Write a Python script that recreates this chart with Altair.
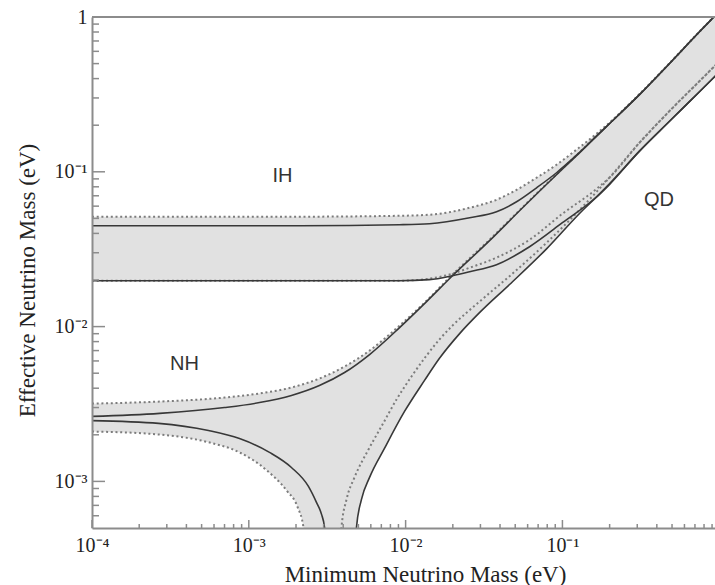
import math
import altair as alt
import pandas as pd

# ---------------- curves (eV) ----------------
# inverted hierarchy, upper edge: best fit (solid) and 3 sigma (dotted)
ih_hi_x = [1e-4, 2.1e-3, 9.15e-3, 1.42e-2, 2.56e-2, 3.80e-2, 5.10e-2, 6.84e-2, 9.17e-2, 0.123, 0.165, 0.200, 0.310, 0.482, 0.748, 0.95]
ih_hi_y = [0.0448, 0.0448, 0.0455, 0.0462, 0.0505, 0.0552, 0.0640, 0.0788, 0.0986, 0.128, 0.170, 0.205, 0.315, 0.501, 0.803, 1.03]
ih_hi3_y = [0.0513, 0.0513, 0.0520, 0.0528, 0.0586, 0.0660, 0.0765, 0.0915, 0.111, 0.139, 0.176, 0.208, 0.317, 0.502, 0.804, 1.03]

# inverted hierarchy, lower edge
ih_lo_x = [1e-4, 9.15e-3, 1.42e-2, 1.99e-2, 2.56e-2, 3.80e-2, 6.17e-2, 0.100, 0.165, 0.200, 0.310, 0.482, 0.748, 0.95]
ih_lo_y = [0.0198, 0.0198, 0.0201, 0.0213, 0.0226, 0.0251, 0.0328, 0.0469, 0.0690, 0.0840, 0.1360, 0.2120, 0.329, 0.418]
ih_lo3_y = [0.0198, 0.0198, 0.0204, 0.0220, 0.0240, 0.0279, 0.0364, 0.0536, 0.0775, 0.0920, 0.154, 0.247, 0.385, 0.490]

# normal hierarchy, upper edge
nh_hi_x = [1e-4, 2.70e-4, 7.00e-4, 1.17e-3, 1.87e-3, 2.82e-3, 4.08e-3, 5.89e-3, 9.15e-3, 1.36e-2, 1.99e-2,
           3.43e-2, 5.57e-2, 9.17e-2, 0.123, 0.165, 0.200, 0.310, 0.482, 0.748, 0.95]
nh_hi_y = [2.63e-3, 2.75e-3, 3.00e-3, 3.23e-3, 3.59e-3, 4.16e-3, 5.05e-3, 6.60e-3, 9.85e-3, 0.0145, 0.0213,
           0.0359, 0.0586, 0.0957, 0.127, 0.170, 0.205, 0.315, 0.501, 0.803, 1.03]
nh_hi3_x = [1e-4, 2.70e-4, 7.00e-4, 1.17e-3, 1.87e-3, 2.82e-3, 4.08e-3, 5.89e-3, 9.15e-3, 1.36e-2, 1.99e-2,
            3.43e-2, 5.57e-2, 9.17e-2, 0.123, 0.165, 0.200, 0.310, 0.482, 0.748, 0.95]
nh_hi3_y = [3.18e-3, 3.28e-3, 3.48e-3, 3.70e-3, 4.04e-3, 4.62e-3, 5.52e-3, 7.00e-3, 0.01015, 0.0147, 0.0217,
            0.0364, 0.0590, 0.0965, 0.128, 0.171, 0.206, 0.317, 0.502, 0.804, 1.03]

# normal hierarchy, lower edge: branch left of the cancellation
nh_lo_left_x = [1e-4, 2.66e-4, 5.53e-4, 8.72e-4, 1.355e-3, 1.87e-3, 2.40e-3, 2.70e-3, 2.91e-3, 3.04e-3, 3.10e-3]
nh_lo_left_y = [2.47e-3, 2.37e-3, 2.13e-3, 1.89e-3, 1.54e-3, 1.23e-3, 9.28e-4, 7.32e-4, 6.12e-4, 5.05e-4, 3.0e-4]
nh_lo3_left_x = [1e-4, 2.66e-4, 5.53e-4, 8.72e-4, 1.30e-3, 1.74e-3, 2.05e-3, 2.23e-3, 2.27e-3]
nh_lo3_left_y = [2.10e-3, 2.01e-3, 1.79e-3, 1.54e-3, 1.18e-3, 8.74e-4, 6.80e-4, 5.05e-4, 3.0e-4]

# normal hierarchy, lower edge: branch right of the cancellation
nh_lo_right_x = [4.75e-3, 4.86e-3, 5.23e-3, 5.89e-3, 7.33e-3, 9.84e-3, 1.32e-2, 1.64e-2, 2.21e-2, 2.96e-2, 4.60e-2,
                 7.92e-2, 0.129, 0.200, 0.310, 0.482, 0.748, 0.95]
nh_lo_right_y = [3.0e-4, 5.05e-4, 7.65e-4, 1.061e-3, 1.633e-3, 2.83e-3, 4.49e-3, 6.22e-3, 9.01e-3, 0.0123, 0.0187,
                 0.0318, 0.0540, 0.0830, 0.1360, 0.2120, 0.329, 0.418]
nh_lo3_right_x = [3.80e-3, 3.90e-3, 4.20e-3, 4.72e-3, 5.80e-3, 7.12e-3, 8.75e-3, 1.09e-2, 1.36e-2, 1.64e-2, 1.99e-2,
                  2.96e-2, 4.81e-2, 7.92e-2, 0.129, 0.200, 0.310, 0.482, 0.748, 0.95]
nh_lo3_right_y = [3.0e-4, 5.05e-4, 7.65e-4, 1.061e-3, 1.609e-3, 2.33e-3, 3.38e-3, 4.76e-3, 6.50e-3, 8.24e-3, 0.01015,
                  0.0145, 0.0220, 0.0348, 0.0569, 0.0920, 0.154, 0.247, 0.385, 0.490]

# region names
region_text = ["IH", "NH", "QD"]
region_x = [1.64e-3, 3.89e-4, 0.413]
region_y = [0.0942, 5.73e-3, 0.0660]

# axis ticks
x_major = [1e-4, 1e-3, 1e-2, 1e-1]
y_major = [1e-3, 1e-2, 1e-1, 1.0]
x_minor = [k * 10.0 ** e for e in (-4, -3, -2, -1) for k in range(2, 10)]
y_minor = [k * 1e-4 for k in range(6, 10)] + [k * 10.0 ** e for e in (-3, -2, -1) for k in range(2, 10)]

# ---------------- styling ----------------
W, H = 623, 511
X_DOMAIN = [1e-4, 0.9397]
Y_DOMAIN = [5e-4, 1.0]
Y_FLOOR = 1e-4          # shaded regions are filled down to here (below the visible range)
SERIF = "Liberation Serif"
SANS = "Liberation Sans"
AXIS_GRAY = "#8c8c8c"
FILL = "#e1e1e1"
SOLID = "#383838"
DOTTED = "#7c7c7c"

# pixels per decade, used to turn tick lengths into scale units
PX_X = W / math.log10(X_DOMAIN[1] / X_DOMAIN[0])
PX_Y = H / math.log10(Y_DOMAIN[1] / Y_DOMAIN[0])

xscale = alt.Scale(type="log", domain=X_DOMAIN, nice=False)
yscale = alt.Scale(type="log", domain=Y_DOMAIN, nice=False)

exp = "round(log(datum.value)/LN10)"
label_expr = (f"{exp} == 0 ? '1' : {exp} == -1 ? '10⁻¹' : {exp} == -2 ? '10⁻²' : "
              f"{exp} == -3 ? '10⁻³' : '10⁻⁴'")

x_axis = alt.Axis(values=x_major, labelExpr=label_expr, ticks=False, grid=False,
                  domainColor=AXIS_GRAY, domainWidth=2, labelFont=SERIF, labelFontSize=20,
                  labelColor="#222222", labelPadding=7, labelFlush=False,
                  title="Minimum Neutrino Mass (eV)", titleFont=SERIF, titleFontSize=23,
                  titleFontWeight="normal", titleColor="#222222", titleX=333, titleY=53,
                  titleBaseline="alphabetic", titleAlign="center", zindex=1)
y_axis = alt.Axis(values=y_major, labelExpr=label_expr, ticks=False, grid=False,
                  domainColor=AXIS_GRAY, domainWidth=2, labelFont=SERIF, labelFontSize=20,
                  labelColor="#222222", labelPadding=5,
                  title="Effective Neutrino Mass (eV)", titleFont=SERIF, titleFontSize=23,
                  titleFontWeight="normal", titleColor="#222222", titleX=-58, titleY=263,
                  titleAngle=270, titleBaseline="alphabetic", titleAlign="center", zindex=1)


def X(field):
    return alt.X(field, type="quantitative", scale=xscale, axis=x_axis)


def Y(field):
    return alt.Y(field, type="quantitative", scale=yscale, axis=y_axis, stack=False)


def frame(xs, ys):
    return pd.DataFrame({"x": xs, "y": ys, "b": [Y_FLOOR] * len(xs)})


def fill_below(xs, ys, color):
    return alt.Chart(frame(xs, ys)).mark_area(
        color=color, clip=True, opacity=1, interpolate="monotone"
    ).encode(x=X("x"), y=Y("y"), y2=alt.Y2("b"))


def curve(xs, ys, dotted):
    if dotted:
        mark = dict(color=DOTTED, strokeWidth=2, strokeDash=[2, 2.7])
    else:
        mark = dict(color=SOLID, strokeWidth=1.6)
    return alt.Chart(frame(xs, ys)).mark_line(clip=True, interpolate="monotone", **mark).encode(
        x=X("x"), y=Y("y"))


def y_ticks(values, length):
    # horizontal tick pointing into the plot from the left edge
    return alt.Chart(pd.DataFrame({"v": values})).transform_calculate(
        a=f"{X_DOMAIN[0]}", b=f"{X_DOMAIN[0]} * pow(10, {length / PX_X})"
    ).mark_rule(color=AXIS_GRAY, strokeWidth=1.5).encode(y=Y("v"), x=X("a"), x2=alt.X2("b"))


def x_ticks(values, length):
    # vertical tick pointing into the plot from the bottom edge
    return alt.Chart(pd.DataFrame({"v": values})).transform_calculate(
        a=f"{Y_DOMAIN[0]}", b=f"{Y_DOMAIN[0]} * pow(10, {length / PX_Y})"
    ).mark_rule(color=AXIS_GRAY, strokeWidth=1.5).encode(x=X("v"), y=Y("a"), y2=alt.Y2("b"))


# shaded bands: IH band, then NH band, cut out below the lower edges
layers = [
    fill_below(ih_hi_x, ih_hi3_y, FILL),
    fill_below(ih_lo_x, ih_lo_y, "white"),
    fill_below(nh_hi3_x, nh_hi3_y, FILL),
    fill_below(nh_lo3_left_x, nh_lo3_left_y, "white"),
    fill_below(nh_lo_right_x, nh_lo_right_y, "white"),
]

# dotted 3 sigma edges, then best-fit solid edges
layers += [
    curve(ih_hi_x, ih_hi3_y, True),
    curve(ih_lo_x, ih_lo3_y, True),
    curve(nh_hi3_x, nh_hi3_y, True),
    curve(nh_lo3_left_x, nh_lo3_left_y, True),
    curve(nh_lo3_right_x, nh_lo3_right_y, True),
    curve(ih_hi_x, ih_hi_y, False),
    curve(ih_lo_x, ih_lo_y, False),
    curve(nh_hi_x, nh_hi_y, False),
    curve(nh_lo_left_x, nh_lo_left_y, False),
    curve(nh_lo_right_x, nh_lo_right_y, False),
]

# inward tick marks and the top border
layers += [
    y_ticks(y_major, 13),
    y_ticks(y_minor, 7),
    x_ticks(x_major, 8),
    x_ticks(x_minor, 4),
    alt.Chart(pd.DataFrame({"v": [0]})).mark_rule(color=AXIS_GRAY, strokeWidth=2).encode(
        x=alt.value(0), x2=alt.value(W), y=alt.value(0)),
]

# region names
layers.append(
    alt.Chart(pd.DataFrame({"t": region_text, "x": region_x, "y": region_y})).mark_text(
        font=SANS, fontSize=20, color="#333333").encode(x=X("x"), y=Y("y"), text="t:N")
)

chart = alt.layer(*layers).properties(
    width=W, height=H,
    padding={"left": 92, "top": 17, "right": 0, "bottom": 57},
    autosize=alt.AutoSizeParams(type="none"),
    background="white",
).configure_view(stroke=None)

chart.save("out.html", embed_options={"renderer": "svg", "actions": False})
